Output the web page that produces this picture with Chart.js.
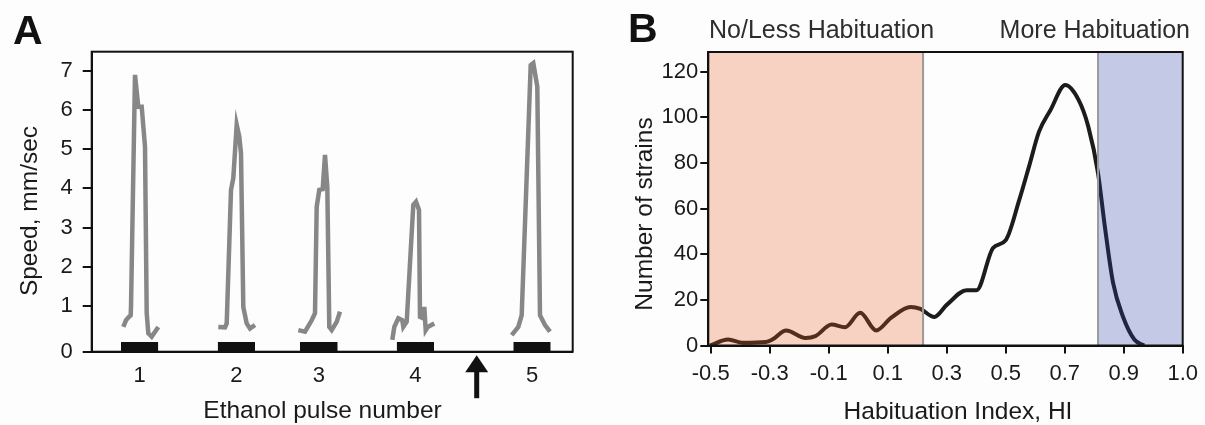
<!DOCTYPE html>
<html>
<head>
<meta charset="utf-8">
<script src="https://cdn.jsdelivr.net/npm/chart.js@4.4.1/dist/chart.umd.min.js"></script>
<style>
  html, body { margin: 0; padding: 0; background: #fdfdfe; }
  body { width: 1205px; height: 425px; position: relative; overflow: hidden;
         font-family: 'Liberation Sans', Arial, sans-serif; color: #1a1a1a; }
  canvas { position: absolute; top: 0; }
  #chartA { left: 0; }
  #chartB { left: 600px; }
  .txt { position: absolute; line-height: 1; white-space: nowrap; }
  .panel { font-size: 41px; font-weight: bold; color: #111; }
  .cap { font-size: 25px; top: 17.3px; color: #2e2e2e; }
  .xt { font-size: 24.5px; transform: translateX(-50%); }
  .yt { font-size: 24.5px; transform: translate(-50%, -50%) rotate(-90deg); }
</style>
</head>
<body>
<canvas id="chartA" width="600" height="425"></canvas>
<canvas id="chartB" width="605" height="425"></canvas>

<div class="txt panel" style="left:13px;top:9.5px;">A</div>
<div class="txt panel" style="left:628px;top:8px;">B</div>
<div class="txt cap" style="left:709px;">No/Less Habituation</div>
<div class="txt cap" style="right:15px;">More Habituation</div>
<div class="txt xt" style="left:322.5px;top:398.3px;">Ethanol pulse number</div>
<div class="txt xt" style="left:958px;top:399.3px;">Habituation Index, HI</div>
<div class="txt yt" style="left:28.8px;top:211px;">Speed, mm/sec</div>
<div class="txt yt" style="left:643.5px;top:213.5px;">Number of strains</div>

<script>
'use strict';

const FONT = "'Liberation Sans', Arial, sans-serif";

// ── Panel A: speed traces around each ethanol pulse ──────────
const PULSE_LABELS = ['1', '2', '3', '4', '5'];
const PULSE_ON  = [2.93, 12.6, 20.83, 30.5, 42.16];
const PULSE_OFF = [6.66, 16.33, 24.6, 34.23, 45.9];
const ARROW_AT = 38.5;

const TIME_1  = [3.16, 3.43, 3.66, 3.9, 3.93, 4.33, 4.66, 5.0, 5.33, 5.5, 5.66, 6.0, 6.66];
const SPEED_1 = [0.47, 0.64, 0.71, 0.77, 0.98, 6.89, 6.08, 6.08, 5.06, 0.82, 0.31, 0.22, 0.47];
const TIME_2  = [12.66, 13.33, 13.5, 13.93, 14.16, 14.5, 14.76, 14.93, 15.16, 15.5, 15.83, 16.33];
const SPEED_2 = [0.47, 0.46, 0.56, 3.96, 4.26, 5.62, 5.32, 4.89, 0.98, 0.56, 0.43, 0.52];
const TIME_3  = [20.66, 21.33, 22.0, 22.33, 22.5, 22.76, 23.1, 23.33, 23.56, 23.76, 24.0, 24.5, 24.83];
const SPEED_3 = [0.39, 0.35, 0.64, 0.82, 3.53, 3.96, 3.98, 4.85, 4.04, 0.47, 0.39, 0.6, 0.86];
const TIME_4  = [30.06, 30.26, 30.66, 31.06, 31.16, 31.5, 32.16, 32.43, 32.73, 32.83, 33.16, 33.26, 33.4, 33.6, 34.26];
const SPEED_4 = [0.14, 0.47, 0.69, 0.64, 0.47, 0.6, 3.58, 3.66, 3.45, 0.73, 0.69, 0.98, 0.39, 0.47, 0.56];
const TIME_5  = [42.0, 42.66, 43.0, 43.9, 44.16, 44.56, 44.83, 45.33, 45.83];
const SPEED_5 = [0.26, 0.47, 0.77, 7.14, 7.19, 6.59, 0.77, 0.52, 0.35];

const SPEED_TICKS = [0, 1, 2, 3, 4, 5, 6, 7];
const SPEED_MIN = -0.16;   // the drawn baseline sits a little under zero
const BAR_TOP = 0.09;

// ── Panel B: distribution of habituation index ──────────────
const HI = [-0.502, -0.441, -0.391, -0.313, -0.291, -0.244, -0.179, -0.145, -0.09, -0.045,
            0.007, 0.061, 0.111, 0.178, 0.211, 0.258, 0.301, 0.368, 0.401, 0.457,
            0.501, 0.546, 0.579, 0.613, 0.652, 0.702, 0.747, 0.78, 0.813, 0.836,
            0.864, 0.897, 0.936, 0.969];
const STRAINS = [0, 2.6, 1.2, 1.5, 2.6, 6.6, 3.3, 4.1, 9.2, 8.0,
                 14.3, 6.6, 12.1, 16.9, 16.0, 12.5, 17.9, 24.2, 24.2, 42.7,
                 46.3, 63.8, 78.4, 93.7, 103.2, 114.1, 107.6, 95.9, 75.5, 52.2,
                 27.4, 12.8, 2.6, 0];
const HI_TICKS = [-0.5, -0.3, -0.1, 0.1, 0.3, 0.5, 0.7, 0.9, 1.1];
const HI_TICK_LABELS = ['-0.5', '-0.3', '-0.1', '0.1', '0.3', '0.5', '0.7', '0.9', '1.0'];
const STRAIN_TICKS = [0, 20, 40, 60, 80, 100, 120];
const LESS_HAB_MAX = 0.22;
const MORE_HAB_MIN = 0.813;

const pts = (xs, ys) => xs.map((x, i) => ({ x: x, y: ys[i] }));

const tickFont = { family: FONT, size: 22 };
const axisLine = { color: '#111', width: 2 };

function frame(ctx, a) {
    ctx.save();
    ctx.strokeStyle = '#111';
    ctx.lineWidth = 2;
    ctx.strokeRect(a.left, a.top, a.right - a.left, a.bottom - a.top);
    ctx.restore();
}

// ── Chart A ─────────────────────────────────────────────────
const traces = [[TIME_1, SPEED_1], [TIME_2, SPEED_2], [TIME_3, SPEED_3], [TIME_4, SPEED_4], [TIME_5, SPEED_5]]
    .map(([t, s]) => ({
        data: pts(t, s),
        borderColor: '#878787', borderWidth: 4.5, tension: 0,
        borderJoinStyle: 'miter', borderCapStyle: 'butt', fill: false
    }));

const pulseBars = PULSE_ON.map((on, i) => ({
    data: [{ x: on, y: BAR_TOP }, { x: PULSE_OFF[i], y: BAR_TOP }],
    fill: 'start', backgroundColor: '#111', borderColor: '#111', borderWidth: 0
}));

const decorA = {
    id: 'decorA',
    afterDatasetsDraw(chart) { frame(chart.ctx, chart.chartArea); },
    afterDraw(chart) {
        const { ctx, chartArea: a } = chart;
        const x = chart.scales.x.getPixelForValue(ARROW_AT);
        const tip = a.bottom + 3.5;
        ctx.save();
        ctx.fillStyle = '#111';
        ctx.beginPath();
        ctx.moveTo(x, tip);
        ctx.lineTo(x + 11.5, tip + 17);
        ctx.lineTo(x - 11.5, tip + 17);
        ctx.closePath();
        ctx.fill();
        ctx.fillRect(x - 2.5, tip + 16, 5, 27);
        ctx.restore();
    }
};

new Chart(document.getElementById('chartA'), {
    type: 'line',
    data: { datasets: [...traces, ...pulseBars] },
    options: {
        responsive: false, animation: false, events: [],
        layout: { padding: { left: 0, right: 27.3, top: 51.7, bottom: 0 } },
        plugins: { legend: { display: false }, tooltip: { enabled: false } },
        elements: { point: { radius: 0 } },
        scales: {
            x: {
                type: 'linear', min: 0, max: 48.1,
                afterBuildTicks: s => { s.ticks = PULSE_ON.map((on, i) => ({ value: (on + PULSE_OFF[i]) / 2 })); },
                afterFit: s => { s.height = 73.3; },
                grid: { display: false, drawTicks: false },
                border: axisLine,
                ticks: { color: '#1a1a1a', font: tickFont, padding: 11, maxRotation: 0, autoSkip: false,
                         callback: (v, i) => PULSE_LABELS[i] }
            },
            y: {
                min: SPEED_MIN, max: 7.48,
                afterBuildTicks: s => { s.ticks = SPEED_TICKS.map(v => ({ value: v === 0 ? SPEED_MIN : v })); },
                afterFit: s => { s.width = 91.7; },
                grid: { drawOnChartArea: false, drawTicks: true, tickLength: 9, color: '#111', lineWidth: 2 },
                border: axisLine,
                ticks: { color: '#1a1a1a', font: tickFont, padding: 10, autoSkip: false,
                         callback: (v, i) => String(SPEED_TICKS[i]) }
            }
        }
    },
    plugins: [decorA]
});

// ── Chart B ─────────────────────────────────────────────────
const decorB = {
    id: 'decorB',
    afterDatasetsDraw(chart) {
        const { ctx, chartArea: a } = chart;
        const xs = chart.scales.x;
        const xl = xs.getPixelForValue(LESS_HAB_MAX);
        const xm = xs.getPixelForValue(MORE_HAB_MIN);
        ctx.save();
        ctx.fillStyle = 'rgba(232,92,30,0.27)';
        ctx.fillRect(a.left, a.top, xl - a.left, a.bottom - a.top);
        ctx.fillStyle = 'rgba(45,65,168,0.27)';
        ctx.fillRect(xm, a.top, a.right - xm, a.bottom - a.top);
        ctx.strokeStyle = '#9a9a9a';
        ctx.lineWidth = 2;
        ctx.beginPath();
        ctx.moveTo(xl, a.top); ctx.lineTo(xl, a.bottom);
        ctx.moveTo(xm, a.top); ctx.lineTo(xm, a.bottom);
        ctx.stroke();
        ctx.restore();
        frame(ctx, a);
    }
};

new Chart(document.getElementById('chartB'), {
    type: 'line',
    data: {
        datasets: [{
            data: pts(HI, STRAINS),
            borderColor: '#1c1c1c', borderWidth: 4,
            cubicInterpolationMode: 'monotone', fill: false
        }]
    },
    options: {
        responsive: false, animation: false, events: [],
        layout: { padding: { left: 0, right: 16, top: 52, bottom: 0 } },
        plugins: { legend: { display: false }, tooltip: { enabled: false } },
        elements: { point: { radius: 0 } },
        scales: {
            x: {
                type: 'linear', min: -0.508, max: 1.1,
                afterBuildTicks: s => { s.ticks = HI_TICKS.map(v => ({ value: v })); },
                afterFit: s => { s.height = 79.5; },
                grid: { drawOnChartArea: false, drawTicks: true, tickLength: 8, color: '#111', lineWidth: 2 },
                border: axisLine,
                ticks: { color: '#1a1a1a', font: tickFont, padding: 7, maxRotation: 0, autoSkip: false,
                         callback: (v, i) => HI_TICK_LABELS[i] }
            },
            y: {
                min: 0, max: 128.6,
                afterBuildTicks: s => { s.ticks = STRAIN_TICKS.map(v => ({ value: v })); },
                afterFit: s => { s.width = 108.3; },
                grid: { drawOnChartArea: false, drawTicks: true, tickLength: 8, color: '#111', lineWidth: 2 },
                border: axisLine,
                ticks: { color: '#1a1a1a', font: tickFont, padding: 2, autoSkip: false,
                         callback: (v, i) => String(STRAIN_TICKS[i]) }
            }
        }
    },
    plugins: [decorB]
});
</script>
</body>
</html>
